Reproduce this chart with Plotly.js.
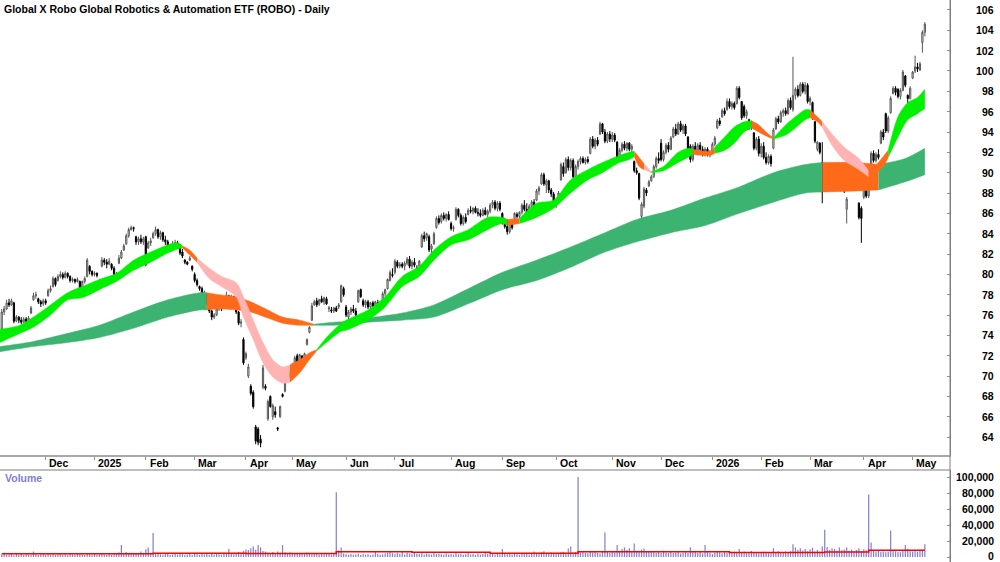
<!DOCTYPE html>
<html><head><meta charset="utf-8">
<script src="https://cdn.plot.ly/plotly-3.0.1.min.js"></script>
<style>html,body{margin:0;padding:0;background:#fff}#chart{width:1000px;height:562px}</style>
</head><body><div id="chart"></div>
<script>
const titleText = "Global X Robo Global Robotics & Automation ETF (ROBO) - Daily";
const monthIdx = [18, 38, 59, 79, 100, 119, 141, 161, 184, 205, 227, 250, 270, 291, 311, 331, 353, 373];
const monthLabels = ['Dec','2025','Feb','Mar','Apr','May','Jun','Jul','Aug','Sep','Oct','Nov','Dec','2026','Feb','Mar','Apr','May'];
const priceTicks = [64,66,68,70,72,74,76,78,80,82,84,86,88,90,92,94,96,98,100,102,104,106];
const volTicks = [0,20000,40000,60000,80000,100000];
const volTickLabels = ['0','20,000','40,000','60,000','80,000','100,000'];

const opens = [
74.6,76.3,76.6,77.2,77.0,77.2,75.4,75.8,75.5,75.3,
75.6,75.4,76.2,77.5,77.9,77.6,77.3,77.1,77.4,77.9,
78.4,78.8,79.6,79.4,79.8,80.0,79.7,80.1,79.8,79.4,
79.5,79.3,79.3,78.6,79.3,79.8,80.8,80.3,80.0,80.1,
79.3,80.8,81.4,81.2,81.0,81.0,80.6,80.0,81.1,81.6,
82.4,83.0,83.8,84.4,84.6,83.7,83.2,83.5,83.2,83.7,
82.6,83.1,83.6,84.0,84.4,83.7,84.1,83.4,83.2,82.8,
82.5,83.0,83.1,82.9,82.2,81.4,81.2,81.4,80.8,80.0,
79.4,78.8,78.6,77.6,78.0,77.0,76.4,75.8,76.0,76.6,
76.8,76.8,77.2,77.9,77.3,77.8,77.0,76.3,75.2,73.6,
71.8,70.0,69.0,68.4,65.0,64.8,63.8,68.9,69.0,65.8,
68.0,66.0,66.5,64.9,66.0,68.2,68.5,69.6,70.3,70.2,
71.2,72.0,71.4,72.0,71.8,73.1,74.3,75.5,77.0,77.4,
77.1,77.6,77.3,77.6,76.6,76.5,76.4,76.7,76.8,77.3,
78.6,76.8,75.8,76.3,76.6,76.4,77.3,78.5,77.4,77.0,
77.3,76.8,77.2,76.9,77.2,76.8,77.4,78.1,78.6,79.4,
80.0,80.2,81.2,80.8,81.0,80.8,81.1,81.5,80.8,81.2,
80.6,80.8,82.7,83.8,83.6,83.7,82.5,83.0,84.6,85.5,
85.2,85.8,85.5,85.9,85.0,84.5,85.4,86.4,85.8,85.0,
85.6,85.9,86.3,86.2,86.5,86.1,86.0,85.8,86.3,85.9,
86.2,86.8,87.1,86.5,87.0,86.0,85.3,84.7,84.2,85.1,
85.5,85.9,85.7,86.1,86.8,86.4,86.0,86.7,87.1,87.3,
88.2,88.9,89.8,88.8,89.2,88.3,87.9,86.8,87.5,89.3,
90.6,90.0,91.3,90.5,91.2,89.6,90.6,91.1,91.4,91.0,
91.3,91.9,93.3,92.6,93.2,93.8,94.8,94.0,93.1,93.8,
93.3,93.7,93.0,91.4,92.2,92.8,92.4,92.9,92.3,91.1,
90.2,89.9,85.7,86.7,88.3,88.7,89.2,89.6,90.6,91.4,
92.9,91.3,92.0,92.7,92.3,93.5,94.3,93.8,94.8,94.2,
94.6,93.5,92.6,91.3,92.6,92.2,92.7,92.3,91.9,92.3,
91.8,92.1,92.8,94.4,95.1,95.5,96.1,96.2,97.0,96.5,
96.8,96.8,98.3,97.0,96.5,95.6,95.2,94.4,93.9,92.4,
93.3,91.9,92.6,91.5,91.0,91.6,92.4,94.3,95.3,95.0,
95.9,96.1,95.8,97.1,96.2,97.6,98.2,97.6,98.7,98.0,
98.6,97.0,96.9,95.0,92.3,92.9,91.0,88.3,90.2,89.0,
89.5,88.7,89.8,89.3,88.8,89.2,86.4,89.3,90.0,88.6,
89.0,87.0,86.5,87.6,88.6,87.7,89.6,91.9,91.2,91.8,
92.9,94.0,95.8,94.1,95.9,97.8,98.3,98.2,97.5,98.1,
99.5,97.6,97.3,99.3,100.0,100.4,100.1,102.8,103.8];

const highs = [
76.6,76.9,77.5,77.6,77.6,77.3,76.0,75.9,75.8,75.8,
75.8,75.9,76.9,78.2,78.3,77.7,77.5,77.6,77.6,78.6,
78.9,79.8,79.7,80.0,80.3,80.2,80.3,80.2,79.9,79.7,
79.6,79.7,79.4,79.4,79.8,81.6,80.9,80.4,80.3,80.2,
79.5,81.7,81.6,81.5,81.6,81.1,80.8,80.2,81.9,82.4,
83.0,84.0,84.6,84.8,84.7,83.8,83.7,83.9,83.7,83.8,
83.3,83.6,84.2,84.7,84.5,84.3,84.2,83.8,83.4,83.0,
83.3,83.4,83.3,83.0,82.5,81.5,81.3,81.8,80.9,80.2,
79.6,78.9,78.8,78.4,78.1,77.2,76.5,76.2,76.8,77.0,
77.0,77.4,78.3,78.0,78.0,77.9,77.2,76.4,75.6,73.8,
72.4,71.2,69.2,68.6,65.2,65.0,64.2,71.1,69.2,67.7,
68.1,67.3,67.0,65.0,67.1,68.3,69.4,70.4,70.6,71.3,
72.0,72.2,72.2,72.0,72.3,73.7,74.9,77.2,77.5,77.7,
77.6,77.9,77.8,77.8,76.9,76.8,76.8,76.9,77.2,79.0,
78.8,77.0,76.5,76.8,77.0,76.7,78.5,78.6,77.6,77.5,
77.5,77.3,77.4,77.4,77.5,77.4,78.3,78.6,79.6,80.4,
80.6,81.5,81.4,81.2,81.2,81.3,81.7,81.8,81.4,81.6,
80.9,81.4,84.0,84.2,84.1,83.9,83.0,84.2,85.7,85.8,
86.0,86.1,86.0,86.2,85.2,84.8,86.6,86.5,86.0,85.8,
86.0,86.5,86.7,86.6,86.7,86.5,86.4,86.5,86.6,86.4,
87.0,87.3,87.3,87.2,87.2,86.1,85.5,85.4,85.3,85.4,
86.1,86.1,86.2,87.0,87.3,87.0,86.9,87.3,87.4,88.4,
88.7,90.0,90.0,89.4,89.3,88.5,88.1,87.2,88.2,91.0,
91.0,91.5,91.6,91.4,91.4,90.8,91.3,91.6,91.6,91.5,
91.6,93.5,93.6,93.4,93.5,95.0,94.9,94.3,94.0,94.1,
94.0,93.9,93.1,92.4,93.0,93.1,93.0,93.0,92.8,91.2,
90.5,90.0,87.1,88.6,88.5,89.3,89.8,90.8,91.6,92.0,
93.3,92.2,92.9,93.0,93.6,94.5,94.8,95.0,95.1,94.8,
94.8,93.6,92.8,92.8,93.0,92.9,93.0,92.6,92.5,92.5,
92.2,93.0,93.6,95.3,95.4,96.3,96.4,97.3,97.3,97.0,
97.0,98.5,98.5,97.0,96.7,96.2,95.3,95.1,94.0,93.5,
93.6,92.9,93.0,92.0,91.8,91.8,94.4,95.5,95.6,96.1,
96.3,96.4,97.3,97.4,101.4,98.4,98.6,98.9,98.9,98.9,
98.8,97.5,97.0,95.1,93.1,93.0,93.0,90.6,90.4,89.8,
89.8,90.0,90.6,89.9,89.4,89.3,87.6,90.7,90.1,89.2,
89.4,87.1,86.7,88.8,88.9,88.6,92.1,92.2,92.0,92.3,
94.2,94.3,95.9,95.6,97.5,98.5,98.5,98.3,98.3,100.1,
99.6,97.7,98.5,100.0,101.5,100.8,100.9,104.0,104.8];

const lows = [
74.4,76.0,76.5,76.8,76.9,75.2,75.3,75.2,75.1,75.2,
75.2,75.3,76.1,77.4,77.6,77.1,76.8,76.9,77.0,77.8,
78.2,78.7,78.8,79.3,79.6,79.5,79.6,79.6,79.2,79.2,
79.1,79.2,77.7,78.5,79.1,79.7,80.0,79.8,79.8,79.7,
79.1,80.7,80.9,80.6,80.9,80.4,79.8,79.5,81.0,81.5,
82.3,82.9,83.6,84.3,84.2,82.9,82.9,83.0,82.9,80.8,
82.5,82.8,83.5,83.8,83.5,83.4,83.2,82.9,82.6,82.2,
82.3,82.7,82.6,81.9,81.6,81.0,80.9,81.3,80.3,79.2,
78.8,78.4,77.2,77.5,77.0,76.2,75.5,75.6,75.9,76.4,
76.4,76.7,77.0,77.1,77.2,76.8,76.1,75.0,74.8,71.1,
71.6,69.8,68.1,66.8,63.3,63.2,63.0,68.7,68.6,65.6,
66.9,65.7,65.9,64.6,65.9,67.9,68.4,69.5,69.7,70.0,
70.9,71.2,71.3,71.3,71.7,73.0,74.2,75.4,76.9,76.8,
76.9,77.2,77.0,77.0,76.3,76.2,76.2,76.3,76.6,77.2,
77.8,75.8,75.6,76.0,76.2,75.9,77.2,77.7,76.8,76.7,
76.6,76.6,76.6,76.8,76.6,76.7,77.3,77.8,78.5,79.3,
79.7,80.0,80.6,80.6,80.6,80.4,80.9,80.6,80.5,80.7,
79.7,80.7,82.6,83.2,83.3,82.2,82.1,82.9,84.5,84.9,
85.0,85.3,85.2,85.3,84.3,84.2,85.3,85.6,84.8,84.8,
85.0,85.8,86.0,85.9,86.0,85.7,85.6,85.7,85.8,85.6,
86.0,86.5,86.3,86.2,86.2,84.9,84.5,83.9,84.0,84.4,
85.4,85.5,85.5,85.9,86.2,85.8,85.7,86.4,86.6,87.2,
87.8,88.8,88.7,88.0,88.0,87.6,86.6,86.5,87.4,89.2,
89.6,89.9,90.2,90.2,89.4,89.4,90.3,90.8,90.9,90.8,
90.9,91.8,92.4,92.3,92.6,93.7,93.8,92.9,92.9,93.0,
93.0,93.0,91.2,91.2,92.0,92.2,92.1,92.1,91.9,90.0,
89.8,87.3,85.5,86.5,87.7,88.6,89.1,89.5,90.4,90.9,
91.1,91.1,91.8,92.0,92.2,93.4,93.6,93.7,94.0,93.8,
93.6,91.6,91.0,91.1,92.0,91.7,92.1,91.6,91.6,91.6,
91.5,92.0,92.6,94.3,94.6,95.4,95.6,96.1,96.3,96.2,
96.2,96.7,97.2,95.2,95.4,95.3,94.2,94.2,92.2,92.2,
91.6,91.5,91.3,90.8,90.8,90.6,92.3,94.2,94.8,94.9,
95.5,95.6,95.7,96.2,96.0,97.2,97.4,97.5,97.8,97.7,
96.8,96.6,95.2,92.9,92.1,91.8,87.0,88.1,88.8,88.4,
88.5,88.6,89.1,88.6,88.4,88.0,85.0,89.2,88.4,88.3,
88.8,85.4,83.1,87.4,87.5,87.5,89.5,91.0,91.0,91.3,
92.8,93.2,93.9,93.9,95.8,97.7,97.6,97.3,97.2,98.0,
98.4,96.5,97.2,99.2,99.8,99.9,100.0,101.8,103.4];

const closes = [
76.3,76.6,77.2,77.0,77.4,75.4,75.8,75.5,75.3,75.6,
75.4,75.7,76.7,77.9,78.0,77.3,77.1,77.4,77.2,78.4,
78.6,79.6,79.0,79.8,80.0,79.7,80.1,79.8,79.4,79.5,
79.3,79.5,77.9,79.3,79.6,81.4,80.3,80.0,80.1,79.9,
79.3,81.4,81.2,81.0,81.3,80.6,80.0,79.7,81.6,82.2,
82.8,83.8,84.4,84.6,84.5,83.2,83.5,83.2,83.5,81.0,
83.1,83.3,84.0,84.4,83.7,84.1,83.4,83.2,82.8,82.5,
83.0,83.1,82.9,82.1,81.8,81.2,81.0,81.6,80.5,79.4,
79.0,78.6,77.4,78.2,77.2,76.4,75.8,76.0,76.6,76.8,
76.6,77.2,77.9,77.3,77.8,77.0,76.3,75.2,75.3,71.3,
72.2,70.9,68.3,67.0,63.6,63.5,63.4,70.8,68.8,67.5,
67.0,67.1,66.2,64.8,67.0,68.0,69.3,70.2,69.9,71.1,
71.8,71.4,72.1,71.5,72.2,73.6,74.8,76.9,77.3,77.0,
77.5,77.3,77.7,77.1,76.7,76.4,76.7,76.4,77.0,78.9,
78.0,76.0,76.3,76.6,76.4,76.0,78.4,77.8,77.0,77.3,
76.8,77.2,76.9,77.3,76.8,77.3,78.1,78.5,79.5,80.2,
79.9,81.3,80.8,81.0,80.8,81.1,81.5,80.8,81.2,80.9,
80.0,81.3,83.8,83.5,84.0,82.4,82.8,84.0,85.5,85.1,
85.8,85.5,85.9,85.4,84.5,84.6,86.4,85.8,85.0,85.6,
85.2,86.3,86.2,86.5,86.1,86.0,85.8,86.3,85.9,86.2,
86.8,87.1,86.5,87.0,86.4,85.1,84.7,84.2,85.1,84.6,
86.0,85.7,86.1,86.8,86.4,86.0,86.7,87.1,86.8,88.2,
88.5,89.8,88.9,89.2,88.3,87.9,86.8,87.0,88.0,90.8,
89.9,91.3,90.5,91.2,89.6,90.6,91.1,91.4,91.0,91.3,
91.1,93.3,92.6,93.2,92.8,94.8,94.0,93.1,93.8,93.3,
93.7,93.2,91.4,92.2,92.8,92.4,92.9,92.3,92.6,90.2,
90.0,87.5,86.9,88.4,88.0,89.1,89.6,90.6,91.4,91.2,
91.3,92.0,92.7,92.3,93.4,94.3,93.8,94.8,94.2,94.6,
93.8,91.8,91.3,92.6,92.2,92.7,92.3,91.9,92.3,91.8,
92.0,92.8,93.4,95.1,94.8,96.1,95.8,97.0,96.5,96.8,
96.4,98.3,97.4,95.4,95.6,96.0,94.4,94.9,92.4,93.3,
91.9,92.6,91.5,91.0,91.6,90.9,94.2,95.3,95.0,95.9,
96.1,95.8,97.1,96.4,97.6,98.2,97.6,98.7,98.0,98.6,
97.0,97.3,95.4,93.1,93.0,92.0,88.1,90.2,89.0,89.5,
88.7,89.8,89.3,88.8,89.2,88.2,87.4,90.5,88.6,89.0,
89.1,85.6,85.5,88.6,87.7,88.4,91.9,91.2,91.8,91.5,
94.0,93.5,94.1,95.4,97.3,98.3,97.9,97.5,98.1,99.9,
98.6,97.3,98.3,99.9,100.4,100.2,100.7,103.8,104.6];

const volumes = [
3200,5200,2600,3100,4100,2200,3600,2800,3900,2500,4600,3100,2700,6800,3300,2400,3500,4200,2900,3800,
3000,4400,2600,3300,5100,2800,3600,2300,4000,3100,2700,3500,4800,3000,2500,4200,3300,2800,3900,2600,
3400,4700,3100,2900,3800,2600,3300,4500,5600,15000,3700,6200,4800,5300,4100,5000,3900,6900,4400,9800,
12000,5200,30000,4600,3900,3300,2800,3600,4100,2500,3000,3800,2700,4300,3500,2900,3200,3700,2600,4000,
3300,2800,4400,3100,3600,2700,3900,3200,5000,3400,2900,4100,3700,10000,4800,3300,4200,6100,5400,7800,
9500,8800,11000,13000,9000,15000,12000,7500,6800,5500,4900,6300,4400,7000,5200,15000,6000,4800,5700,4300,
3900,5100,4200,3600,4800,5600,4100,3500,4400,3800,3000,4600,3300,3900,4200,3100,3700,81000,8000,12000,
4500,3300,2900,3600,2700,3200,4100,2500,3800,2900,3400,2300,3000,6500,3600,2800,3100,4300,5200,6400,
4700,3500,4900,3900,6100,3200,5600,4400,3300,5000,4100,3600,4800,3200,4500,3900,3000,5400,3600,4200,
3300,2700,4600,3100,3800,2900,5500,3400,4100,2800,3500,6200,3000,3900,2600,4400,3200,3700,5800,4000,
3600,4300,3000,4900,3400,10000,4200,3500,4700,3100,3900,3300,2800,4500,3600,4000,3000,3700,6800,5100,
4400,5900,7300,4800,4100,5500,3900,4600,5200,6000,6600,5400,10500,13000,5600,6200,100000,5900,6800,5200,
4800,6100,5500,6900,5000,4500,7600,31000,6300,5400,7100,5800,15000,6600,10000,12000,8700,11000,6400,17000,
7800,6900,9200,10500,7400,6200,5900,7000,5300,6600,5000,7800,5600,4800,6300,5100,5700,6900,4500,5200,
6000,4900,12000,5800,6400,5000,7300,4400,15000,6100,5200,3600,5500,6800,5900,4700,6200,5300,7100,5600,
6500,5000,10000,5800,6900,4700,5400,7600,5100,6300,4800,5700,6600,5200,4600,6000,11000,5500,7200,6100,
5300,6800,5900,7400,16000,12000,9000,11000,8200,10000,7300,9600,11500,6800,8600,7000,13000,34000,12500,8900,
11000,10000,7700,12000,8400,9300,12000,7800,9100,6900,8800,11000,7500,9600,8300,78000,18000,8400,6900,7600,
6200,7000,5800,6600,33000,8000,7200,6400,5900,8800,15000,10000,7300,6800,8200,6500,7700,9400,16000];

const volAvgIdx = [0, 62, 100, 137, 168, 200, 236, 298, 337, 355, 378];
const volAvgVal = [4200, 4700, 4500, 6600, 6000, 4600, 6700, 5700, 6400, 8400, 8400];

const shortIdx = [-0.7,7.5,13,20,27,33,40,47,54,61,68,72,74,77,80,85,90,96,99,103,107,111,115,118,122,126,129,133,139,141,150,157,164,171,177,184,191,199,205,207,212,219,226,233,240,246,253,257,259,261,263,266,271,277,281,283,290,292,296,300,304,307,310,313,316,321,325,329,331,334,336,340,345,351,355,357,361,363,367,371,375,378];
const shortTop = [74.6,75.0,75.8,77.0,78.2,78.8,79.5,80.1,81.4,82.2,82.9,83.1,82.8,82.4,81.6,80.6,79.8,79.2,77.8,75.5,73.3,71.6,70.9,71.1,71.6,72.3,72.6,73.8,75.2,75.5,76.5,77.8,79.8,80.8,82.4,83.7,84.4,85.6,85.6,85.4,85.5,87.0,87.3,89.3,90.3,91.0,91.7,92.0,92.1,91.5,90.9,90.1,90.6,92.0,92.4,92.3,92.1,92.5,93.5,94.5,95.0,95.1,94.7,94.0,93.4,94.7,95.5,96.2,96.2,95.5,95.0,93.8,92.5,91.4,90.2,90.5,91.6,92.2,95.5,96.9,97.4,98.2];
const shortBot = [73.3,74.2,74.8,76.0,77.5,77.7,78.5,79.3,80.4,81.2,82.1,82.5,82.6,81.9,81.2,79.6,78.8,77.8,75.8,73.6,71.3,69.9,69.3,69.4,70.3,71.6,72.5,73.3,74.4,74.5,75.5,76.8,78.8,79.8,81.4,82.9,83.4,84.4,85.0,84.8,85.0,85.6,86.5,88.0,89.3,90.0,91.0,91.3,91.6,90.6,90.3,90.0,90.2,91.0,91.5,91.8,91.7,91.9,92.2,92.9,94.0,94.4,94.0,93.6,93.3,93.7,94.4,95.2,95.4,95.0,94.5,92.7,91.2,90.3,89.6,89.8,90.6,91.5,93.5,95.2,95.8,96.3];
// colour of each stretch of the fast ribbon: [colour, number of sample points it starts at]
const shortColRuns = [['g',12],['o',2],['p',9],['o',3],['g',13],['o',1],['g',8],['o',2],['p',1],['g',4],['o',2],['g',4],['o',3],['g',4],['o',2],['p',4],['o',3],['g',5]];

const longIdx = [-0.7,13,27,40,54,68,81,84,89,96,102,109,115,122,128,136,143,150,164,177,192,205,219,233,246,260,274,288,302,316,329,336,350,359,370,378];
const longTop = [72.9,73.4,74.2,75.0,76.3,77.5,78.2,78.2,78.0,77.8,77.3,76.5,75.8,75.5,75.1,75.3,75.4,75.7,76.2,77.0,78.7,80.2,81.4,82.7,84.0,85.4,86.3,87.5,88.6,90.0,90.8,91.0,91.0,90.8,91.4,92.4];
const longBot = [72.4,72.9,73.3,73.8,74.7,75.8,76.5,76.5,76.6,76.5,76.3,75.7,75.2,75.0,75.0,75.0,75.1,75.3,75.5,75.8,77.2,78.5,79.4,80.7,82.1,83.2,84.1,84.8,86.0,87.1,88.0,88.1,88.2,88.3,89.1,89.8];
const longColRuns = [['g',7],['o',7],['g',17],['o',2],['g',3]];

const palette = {g:'#00f000', o:'#ff6a1a', p:'#ffb3b3'};
const longPalette = {g:'#3cb371', o:'#ff6a1a'};

function expandRuns(runs) {
  const out = [];
  runs.forEach(r => { for (let k = 0; k < r[1]; k++) out.push(r[0]); });
  return out;
}

function ribbon(idx, top, bot, col, map) {
  const out = [];
  let s = 0;
  for (let k = 1; k < idx.length; k++) {
    if (k === idx.length - 1 || col[k] !== col[s]) {
      const xs = idx.slice(s, k + 1);
      const c = map[col[s]];
      out.push({type:'scatter', mode:'lines', x: xs, y: bot.slice(s, k + 1),
        line:{width:0.5, color:c, shape:'spline', smoothing:0.8}, hoverinfo:'skip', showlegend:false, xaxis:'x', yaxis:'y'});
      out.push({type:'scatter', mode:'lines', x: xs, y: top.slice(s, k + 1), fill:'tonexty', fillcolor:c,
        line:{width:0.5, color:c, shape:'spline', smoothing:0.8}, hoverinfo:'skip', showlegend:false, xaxis:'x', yaxis:'y'});
      s = k;
    }
  }
  return out;
}

const xi = closes.map((_, i) => i);
const F = "'Liberation Sans', Arial, sans-serif";
const FS = 10.5;

const traces = [];
ribbon(longIdx, longTop, longBot, expandRuns(longColRuns), longPalette).forEach(t => traces.push(t));
ribbon(shortIdx, shortTop, shortBot, expandRuns(shortColRuns), palette).forEach(t => traces.push(t));
traces.push({type:'candlestick', x: xi, open: opens, high: highs, low: lows, close: closes,
  increasing:{line:{color:'#555555', width:1}, fillcolor:'#ffffff'},
  decreasing:{line:{color:'#000000', width:1}, fillcolor:'#000000'},
  whiskerwidth:0, hoverinfo:'skip', showlegend:false, xaxis:'x', yaxis:'y'});
traces.push({type:'bar', x: xi, y: volumes, width:0.5, marker:{color:'#8080d4', line:{width:0}},
  xaxis:'x2', yaxis:'y2', hoverinfo:'skip', showlegend:false});
traces.push({type:'scatter', mode:'lines', x: volAvgIdx, y: volAvgVal, line:{color:'#ff0000', width:1.5, shape:'hv'},
  xaxis:'x2', yaxis:'y2', hoverinfo:'skip', showlegend:false});

const annotations = [];
annotations.push({xref:'paper', yref:'paper', x: 2/950, y: 1 - 9/562, xanchor:'left', yanchor:'middle',
  text: titleText, showarrow:false, font:{family:F, size:FS, color:'#000', weight:'bold'}});
monthIdx.forEach((m, k) => annotations.push({xref:'x', yref:'paper', x: m + 0.7, y: 1 - 463/562,
  xanchor:'left', yanchor:'middle', text: monthLabels[k], showarrow:false,
  font:{family:F, size:FS, color:'#000', weight:'bold'}}));
priceTicks.forEach(v => annotations.push({xref:'paper', yref:'y', x: 996/950, y: v, xanchor:'right', yanchor:'middle',
  text: String(v), showarrow:false, font:{family:F, size:FS, color:'#000', weight:'bold'}}));
volTicks.forEach((v, k) => annotations.push({xref:'paper', yref:'y2', x: 996/950, y: v, xanchor:'right', yanchor:'middle',
  yshift: v === 0 ? 1 : 0,
  text: volTickLabels[k], showarrow:false, font:{family:F, size:FS, color:'#000', weight:'bold'}}));
annotations.push({xref:'paper', yref:'paper', x: 3/950, y: 1 - 478/562, xanchor:'left', yanchor:'middle',
  text:'Volume', showarrow:false, font:{family:F, size:FS, color:'#7f7fc8', weight:'bold'}});

const layout = {
  width:1000, height:562, margin:{l:0, r:50, t:0, b:0},
  paper_bgcolor:'#ffffff', plot_bgcolor:'#ffffff', showlegend:false, hovermode:false,
  xaxis:{domain:[0,1], range:[-0.7, 388.3], anchor:'y', showgrid:false, zeroline:false,
    showline:true, linecolor:'#a8a8a8', linewidth:2, ticks:'outside', ticklen:3, tickcolor:'#909090',
    tickvals: monthIdx, showticklabels:false, rangeslider:{visible:false}, fixedrange:true},
  xaxis2:{domain:[0,1], range:[-0.7, 388.3], anchor:'y2', showgrid:false, zeroline:false,
    showline:false, ticks:'', showticklabels:false, fixedrange:true},
  yaxis:{domain:[1 - 455/562, 1], range:[62.24, 106.98], side:'right', showgrid:false, zeroline:false,
    showline:true, linecolor:'#808080', linewidth:1, ticks:'inside', ticklen:3, tickcolor:'#909090',
    tickvals: priceTicks, showticklabels:false, fixedrange:true},
  yaxis2:{domain:[0, 1 - 470/562], range:[-6250, 108750], side:'right', showgrid:false, zeroline:false,
    showline:true, linecolor:'#808080', linewidth:1, ticks:'inside', ticklen:3, tickcolor:'#909090',
    tickvals: volTicks, showticklabels:false, fixedrange:true},
  shapes:[
    {type:'line', xref:'paper', yref:'paper', x0:0, x1:1, y0:1 - 470/562, y1:1 - 470/562, line:{color:'#a8a8a8', width:1.5}},
    {type:'line', xref:'paper', yref:'paper', x0:1, x1:1, y0:0, y1:1, line:{color:'#808080', width:1}}
  ],
  annotations: annotations
};

Plotly.newPlot('chart', traces, layout, {staticPlot:true, displayModeBar:false});
</script>
</body></html>
